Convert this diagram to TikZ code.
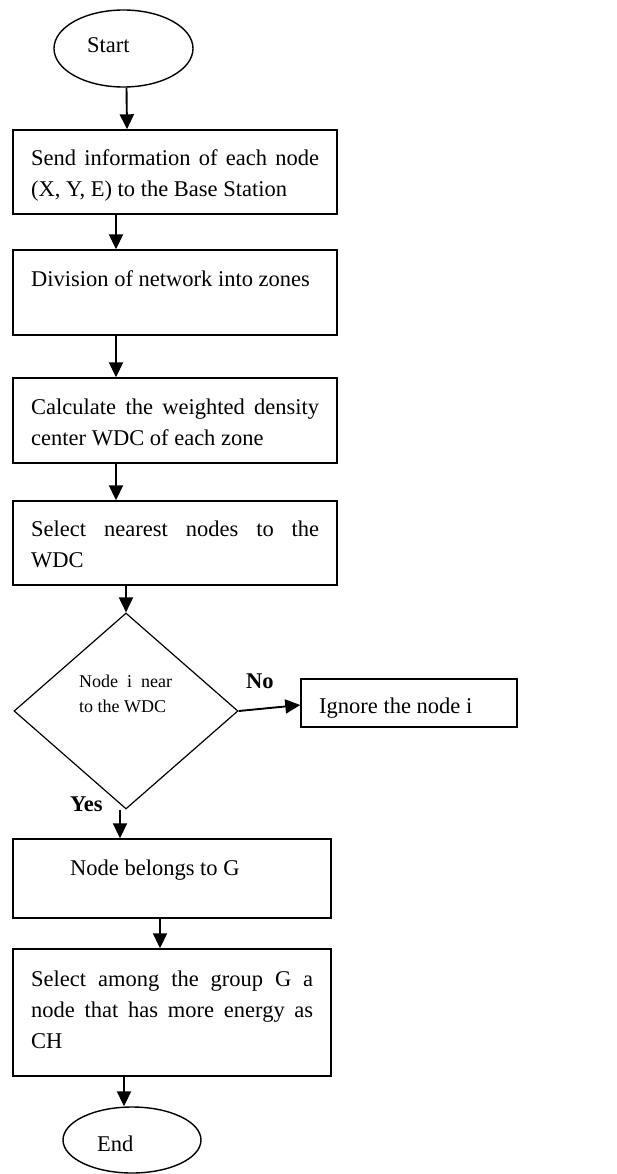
\documentclass[tikz,border=0pt]{standalone}
\usepackage{fontspec}
\setmainfont{Liberation Serif}
\usetikzlibrary{shapes.geometric,arrows.meta}
\begin{document}
\begin{tikzpicture}[x=1pt,y=-1pt,
 box/.style={draw,line width=1.4pt,rectangle,inner sep=0pt},
 term/.style={draw,line width=1.4pt,ellipse,inner sep=0pt},
 dec/.style={draw,line width=1.2pt,diamond,inner sep=0pt},
 arr/.style={line width=1.9pt,-{Triangle[length=15pt 0,width=14pt 0]}},
 txt/.style={anchor=base west,inner sep=0pt,font=\fontsize{22.5}{31}\selectfont},
 small/.style={anchor=base west,inner sep=0pt,font=\fontsize{18}{24}\selectfont},
 lbl/.style={anchor=base west,inner sep=0pt,font=\fontsize{22.5}{31}\selectfont\bfseries}]
\useasboundingbox (0,0) rectangle (616,1174);

% shapes
\node[term,minimum width=139pt,minimum height=77pt] (start) at (123.5,48.5) {};
\node[box,minimum width=324pt,minimum height=84pt] (b1) at (175,172) {};
\node[box,minimum width=324pt,minimum height=85pt] (b2) at (175,292.5) {};
\node[box,minimum width=324pt,minimum height=85pt] (b3) at (175,420.5) {};
\node[box,minimum width=324pt,minimum height=84pt] (b4) at (175,543) {};
\node[dec,minimum width=224pt,minimum height=196pt] (dia) at (126,711) {};
\node[box,minimum width=216pt,minimum height=48pt] (ign) at (409,703) {};
\node[box,minimum width=318pt,minimum height=79pt] (b5) at (172,878.5) {};
\node[box,minimum width=318pt,minimum height=127pt] (b6) at (172,1012.5) {};
\node[term,minimum width=138pt,minimum height=66pt] (end) at (132,1140) {};

% texts
\node[txt] (tstart) at (87,53) {Start};
\node[txt] (t1a) at (31,166) {\makebox[288pt][s]{Send information of each node}};
\node[txt] (t1b) at (31,197) {(X, Y, E) to the Base Station};
\node[txt] (t2a) at (31,286) {Division of network into zones};
\node[txt] (t3a) at (31,414) {\makebox[288pt][s]{Calculate the weighted density}};
\node[txt] (t3b) at (31,445) {center WDC of each zone};
\node[txt] (t4a) at (31,536) {\makebox[288pt][s]{Select nearest nodes to the}};
\node[txt] (t4b) at (31,567) {WDC};
\node[small] (tda) at (79,687) {Node\ \ i\ \ near};
\node[small] (tdb) at (79,712) {to the WDC};
\node[txt] (tign) at (319,713) {Ignore the node i};
\node[lbl] (tno) at (246,688) {No};
\node[lbl] (tyes) at (70,811) {Yes};
\node[txt] (t5a) at (70,875) {Node belongs to G};
\node[txt] (t6a) at (31,986) {\makebox[282pt][s]{Select among the group G a}};
\node[txt] (t6b) at (31,1017) {\makebox[282pt][s]{node that has more energy as}};
\node[txt] (t6c) at (31,1048) {CH};
\node[txt] (tend) at (97,1151) {End};

% connectors
\draw[arr] ([xshift=3pt]start.south) -- ([xshift=-48pt]b1.north);
\draw[arr] ([xshift=-59pt]b1.south) -- ([xshift=-59pt]b2.north);
\draw[arr] ([xshift=-59pt]b2.south) -- ([xshift=-59pt]b3.north);
\draw[arr] ([xshift=-59pt]b3.south) -- ([xshift=-59pt]b4.north);
\draw[arr] ([xshift=-49pt]b4.south) -- (dia.north);
\draw[arr] (dia.east) -- ([yshift=-2pt]ign.west);
\draw[arr] ([xshift=-6pt]dia.south) -- ([xshift=-52pt]b5.north);
\draw[arr] ([xshift=-12pt]b5.south) -- ([xshift=-12pt]b6.north);
\draw[arr] ([xshift=-48pt]b6.south) -- ([xshift=-8pt]end.north);
\end{tikzpicture}
\end{document}
